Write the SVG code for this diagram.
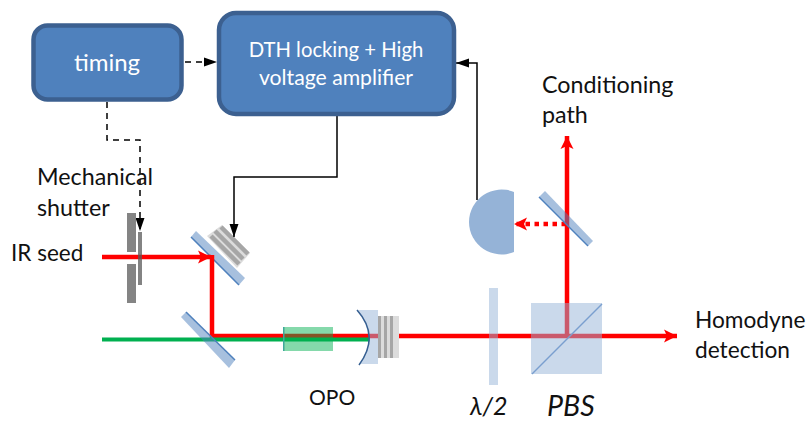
<svg xmlns="http://www.w3.org/2000/svg" width="808" height="421" viewBox="0 0 808 421">
<style>
text{font-family:Lato,"Open Sans",sans-serif;fill:#111}
.box{fill:#4f81bd;stroke:#3c6090;stroke-width:4.500}
.bt{fill:#fff;text-anchor:middle}
.k{fill:none;stroke:#000;stroke-width:1.500}
.d{stroke-dasharray:6 5}
.r{fill:none;stroke:#f00;stroke-width:4.500}
.m{fill:#4f81bd;fill-opacity:.5}
.me{fill:none;stroke:#4f81bd;stroke-width:1.500}
.lb{fill:#95b3d7;fill-opacity:.5}
.st{stroke:#a6a6a6;stroke-width:4.500;fill:none}
</style>
<defs>
<marker id="ka" markerUnits="userSpaceOnUse" markerWidth="14" markerHeight="10" refX="13" refY="5" orient="auto"><path d="M0 .5L13 5L0 9.500z" fill="#000"/></marker>
<marker id="ra" markerUnits="userSpaceOnUse" markerWidth="14" markerHeight="14" refX="13" refY="7" orient="auto"><path d="M0 .5L13 7L0 13.500L3 7z" fill="#f00"/></marker>
</defs>
<g id="mirror1"><path d="M222 225L250 253L237 268L207 236z" fill="#dcdcdc"/><path class="st" d="M221 227L248 254M215 231L243 259M211 236L239 264"/>
<path d="M196 231L245 278L239 285L191 237z" class="m"/><path d="M191 237L239 285" class="me"/></g>
<g id="connectors">
<path class="r" d="M102 257H211" marker-end="url(#ra)"/>
<path d="M212 255V336H370" fill="none" stroke="#f00" stroke-width="4.500"/>
<path d="M102 339.500H370" fill="none" stroke="#00b050" stroke-width="4"/>
<path class="r" d="M370 336H677" marker-end="url(#ra)"/>
<path class="r" d="M567 336V136" marker-end="url(#ra)"/>
<path class="r" d="M566 224H514" marker-end="url(#ra)" stroke-dasharray="4.500 4.500"/>
<path class="k d" d="M185 62H217" marker-end="url(#ka)"/>
<path class="k d" d="M107 102V140H140V231" marker-end="url(#ka)"/>
<path class="k" d="M337 115V177H234V237" marker-end="url(#ka)"/>
<path class="k" d="M477 200V63H456" marker-end="url(#ka)"/>
</g>
<g id="timing"><rect class="box" x="33.500" y="25.500" width="148" height="74" rx="14"/><text class="bt" x="107" y="71" font-size="24">timing</text></g>
<g id="dth"><rect class="box" x="219" y="13" width="235" height="101" rx="17"/><text class="bt" x="336" y="57" font-size="20.300">DTH locking + High</text><text class="bt" x="336" y="85" font-size="21.200">voltage amplifier</text></g>
<g id="shutter"><rect x="127" y="213" width="9" height="39" fill="#848484"/><rect x="127" y="264" width="9" height="39" fill="#848484"/><rect x="138" y="232" width="4" height="53" fill="#595959" fill-opacity=".75"/></g>
<g id="mirror2"><path d="M186 312L235 360L229 368L181 317z" class="m"/><path d="M186 312L235 360" class="me"/></g>
<g id="opo-crystal"><rect x="283" y="327" width="50" height="24" fill="#00b050" fill-opacity=".48"/><rect x="283" y="327" width="1.500" height="24" fill="#3fa89a"/></g>
<g id="opo-mirror"><path d="M357 310H378V364H359C373 346 372 328 357 310z" class="lb"/><path d="M357 310C373 328 373 346 359 365" fill="none" stroke="#365f91" stroke-width="1.500"/><rect x="378" y="316" width="21" height="42" fill="#dcdcdc"/><g fill="#a6a6a6"><rect x="378" y="316" width="3" height="42"/><rect x="384" y="316" width="3" height="42"/><rect x="390" y="316" width="3" height="42"/></g></g>
<g id="waveplate"><rect x="489" y="288" width="9" height="97" class="lb"/></g>
<g id="pbs"><rect x="531" y="303" width="71" height="71" class="lb"/><path d="M532 374L602 304" stroke="#7a9fcf" stroke-width="1.500" fill="none"/></g>
<g id="detector"><path d="M514 192A32.500 32.500 0 1 0 514 252z" fill="#95b3d7"/></g>
<g id="mirror3"><path d="M545 191L593 241L588 246L539 197z" class="m"/><path d="M539 197L588 246" class="me"/></g>
<g id="labels">
<text x="37" y="185" font-size="23.300">Mechanical</text><text x="37" y="216" font-size="23.300">shutter</text>
<text x="11" y="261" font-size="22.500">IR seed</text>
<text x="309" y="405" font-size="21">OPO</text>
<text x="470" y="415" font-size="25" font-family="Liberation Serif" font-style="italic">λ/2</text>
<text x="547" y="416" font-size="28.500" font-style="italic">PBS</text>
<text x="542" y="93" font-size="23.300">Conditioning</text><text x="542" y="123" font-size="23.300">path</text>
<text x="695" y="328" font-size="22.700">Homodyne</text><text x="695" y="358" font-size="22.700">detection</text>
</g>
</svg>
